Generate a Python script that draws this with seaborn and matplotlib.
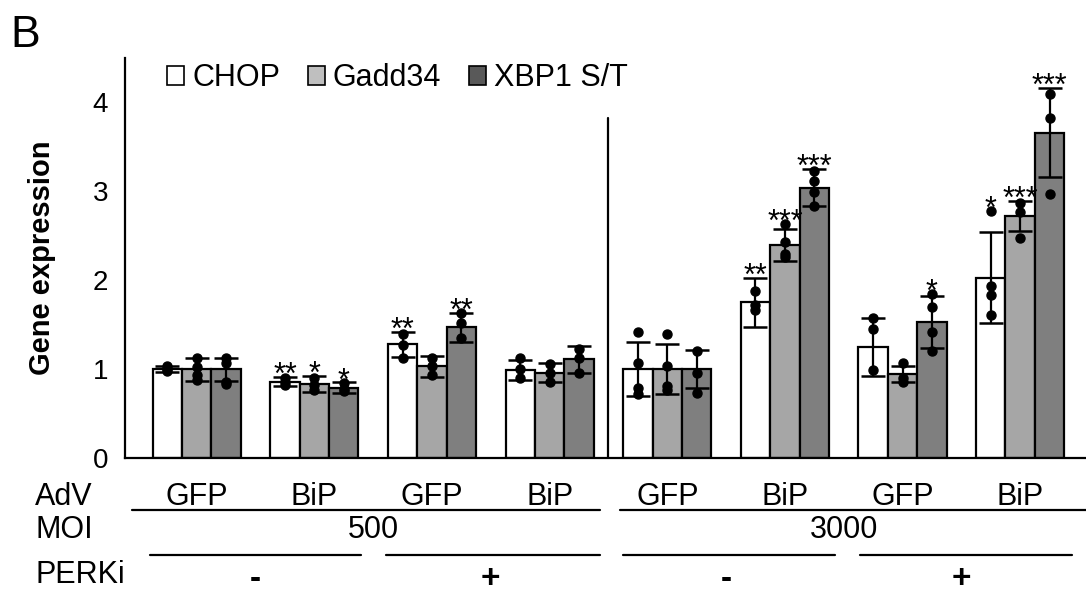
import numpy as np
import pandas as pd
import matplotlib
matplotlib.use('Agg')
import matplotlib.pyplot as plt
import matplotlib.transforms as mtransforms
from matplotlib.patches import Patch
import seaborn as sns

sns.set_style('white')
plt.rcParams['font.family'] = ['Liberation Sans', 'DejaVu Sans']
plt.rcParams['text.color'] = 'black'
plt.rcParams['ytick.color'] = 'black'

# data
conditions = ['c1', 'c2', 'c3', 'c4', 'c5', 'c6', 'c7', 'c8']
adv = ['GFP', 'BiP', 'GFP', 'BiP', 'GFP', 'BiP', 'GFP', 'BiP']
moi = ['500', '3000']
perki = ['-', '+', '-', '+']
genes = ['CHOP', 'Gadd34', 'XBP1 S/T']

chop_mean = [1.00, 0.86, 1.28, 0.99, 1.00, 1.75, 1.25, 2.03]
gadd_mean = [1.00, 0.83, 1.03, 0.96, 1.00, 2.40, 0.95, 2.72]
xbp_mean = [1.00, 0.79, 1.47, 1.11, 1.00, 3.04, 1.53, 3.66]

chop_err = [0.03, 0.05, 0.14, 0.11, 0.30, 0.28, 0.33, 0.51]
gadd_err = [0.13, 0.09, 0.12, 0.11, 0.28, 0.18, 0.09, 0.17]
xbp_err = [0.13, 0.06, 0.16, 0.15, 0.21, 0.21, 0.29, 0.50]

chop_dots = [[1.03, 1.00, 0.98], [0.90, 0.85, 0.82], [1.40, 1.27, 1.13], [1.12, 1.00, 0.90],
             [1.42, 1.07, 0.79, 0.72], [1.88, 1.72, 1.66], [1.58, 1.45, 0.99], [2.78, 1.94, 1.83, 1.61]]
gadd_dots = [[1.12, 1.02, 0.93, 0.88], [0.90, 0.82, 0.76], [1.13, 1.03, 0.93], [1.06, 0.96, 0.86],
             [1.39, 1.04, 0.81, 0.76], [2.63, 2.43, 2.30, 2.26], [1.07, 0.90, 0.86], [2.87, 2.77, 2.47]]
xbp_dots = [[1.13, 1.07, 0.85, 0.83], [0.84, 0.78, 0.75], [1.63, 1.52, 1.35], [1.23, 1.12, 0.96],
            [1.20, 0.96, 0.73], [3.23, 3.12, 2.99, 2.84], [1.85, 1.70, 1.42, 1.20], [4.10, 3.83, 2.97]]

chop_stars = ['', '**', '**', '', '', '**', '', '*']
gadd_stars = ['', '*', '', '', '', '***', '', '***']
xbp_stars = ['', '*', '**', '', '', '***', '*', '***']

bar_colors = ['#FFFFFF', '#A6A6A6', '#7F7F7F']
legend_colors = ['#FFFFFF', '#BFBFBF', '#595959']

means = [chop_mean, gadd_mean, xbp_mean]
errs = [chop_err, gadd_err, xbp_err]
dots = [chop_dots, gadd_dots, xbp_dots]
stars = [chop_stars, gadd_stars, xbp_stars]

df = pd.DataFrame({
    'condition': conditions * 3,
    'gene': np.repeat(genes, len(conditions)),
    'value': chop_mean + gadd_mean + xbp_mean,
})

fig = plt.figure(figsize=(10.86, 5.96), dpi=100)
ax = fig.add_axes([125 / 1086, 138 / 596, 961 / 1086, 400 / 596])

sns.barplot(data=df, x='condition', y='value', hue='gene', order=conditions, hue_order=genes,
            palette=bar_colors, saturation=1, width=0.75, edgecolor='black', linewidth=1.6,
            errorbar=None, legend=False, ax=ax, zorder=2)

bar_containers = list(ax.containers)
for g, container in enumerate(bar_containers):
    for i, bar in enumerate(container.patches):
        xc = bar.get_x() + bar.get_width() / 2
        ax.errorbar(xc, means[g][i], yerr=errs[g][i], fmt='none', ecolor='black',
                    elinewidth=1.6, capsize=8.5, capthick=1.8, zorder=3)
        ax.plot([xc] * len(dots[g][i]), dots[g][i], 'o', color='black', ms=6.5, zorder=4)
        if stars[g][i]:
            top = max(means[g][i] + errs[g][i], max(dots[g][i]))
            ax.text(xc, top - 0.08, stars[g][i], ha='center', va='baseline', fontsize=22)

ax.set_xlim(-0.61, 7.56)
ax.set_ylim(0, 4.5)
ax.set_yticks([0, 1, 2, 3, 4])
ax.tick_params(axis='y', direction='out', length=6, width=1.5, labelsize=20, pad=6)
ax.tick_params(axis='x', length=0, labelbottom=False)
ax.set_xlabel('')
ax.set_ylabel('')
for s in ['top', 'right']:
    ax.spines[s].set_visible(False)
for s in ['left', 'bottom']:
    ax.spines[s].set_linewidth(1.6)
    ax.spines[s].set_color('black')

# separator between MOI blocks
ax.plot([3.5, 3.5], [0, 3.83], color='black', lw=1.6, zorder=1)

handles = [Patch(facecolor=c, edgecolor='black', linewidth=1.2) for c in legend_colors]
ax.legend(handles, genes, loc='center left', bbox_to_anchor=(0.044, 0.95), ncol=3, frameon=False,
          fontsize=22, handlelength=0.56, handleheight=0.56, handletextpad=0.26,
          columnspacing=0.9, borderpad=0, borderaxespad=0)

# category rows under the axis
trans = mtransforms.blended_transform_factory(ax.transData, ax.transAxes)
for i, lab in enumerate(adv):
    ax.text(i, -0.0975, lab, transform=trans, ha='center', va='center', fontsize=22, clip_on=False)
for k, lab in enumerate(moi):
    ax.text(4 * k + 1.5, -0.18, lab, transform=trans, ha='center', va='center', fontsize=22, clip_on=False)
for j, lab in enumerate(perki):
    ax.text(2 * j + 0.5, -0.343, lab, transform=trans, ha='center', va='bottom', fontsize=24,
            fontweight='bold', clip_on=False)

for x0, x1 in [(-0.55, 3.43), (3.60, 7.56)]:
    ax.plot([x0, x1], [-0.13, -0.13], transform=trans, color='black', lw=1.6, clip_on=False)
for x0, x1 in [(-0.40, 1.40), (1.61, 3.43), (3.62, 5.43), (5.64, 7.44)]:
    ax.plot([x0, x1], [-0.2425, -0.2425], transform=trans, color='black', lw=1.6, clip_on=False)

fig.text(35 / 1086, 1 - 497 / 596, 'AdV', ha='left', va='center', fontsize=22)
fig.text(35 / 1086, 1 - 530 / 596, 'MOI', ha='left', va='center', fontsize=22)
fig.text(35 / 1086, 1 - 575 / 596, 'PERKi', ha='left', va='center', fontsize=22)
fig.text(42 / 1086, 1 - 258 / 596, 'Gene expression', rotation=90, ha='center', va='center',
         fontsize=21, fontweight='bold')
fig.text(10 / 1086, 1 - 47 / 596, 'B', ha='left', va='baseline', fontsize=32)

fig.savefig('out.png', dpi=100)
